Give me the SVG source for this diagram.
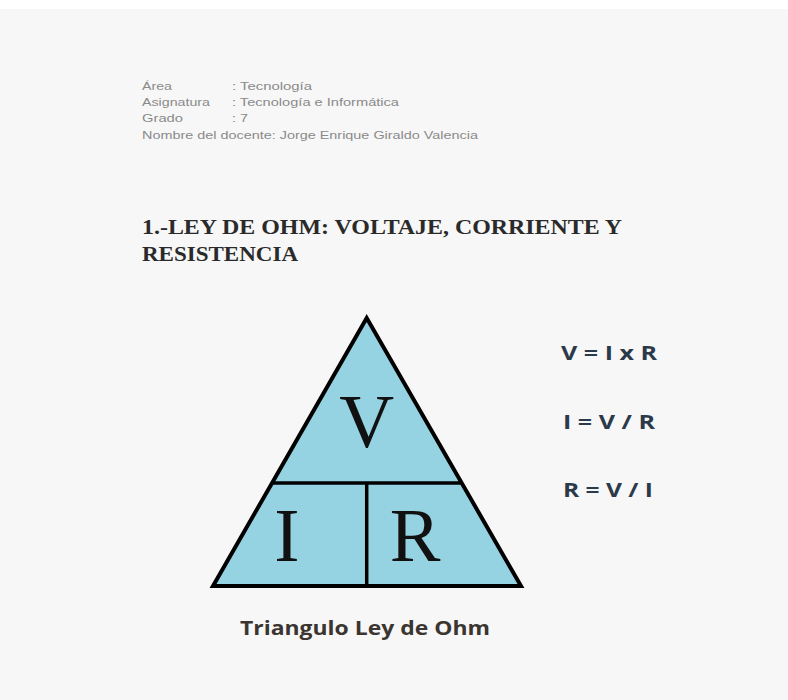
<svg xmlns="http://www.w3.org/2000/svg" width="788" height="700" viewBox="0 0 788 700">
<style>
.hdr{font-family:"Liberation Sans",Arial,sans-serif;font-size:11.5px;fill:#8a8a8a}
.ttl{font-family:"Liberation Serif","Times New Roman",serif;font-size:21px;font-weight:bold;fill:#2a2a2a}
.big{font-family:"Liberation Serif","Times New Roman",serif;font-size:76px;fill:#111;text-anchor:middle}
.frm{font-family:"Open Sans","Liberation Sans",sans-serif;font-size:20px;font-weight:bold;fill:#2b3a4a}
.cap{font-family:"Open Sans","Liberation Sans",sans-serif;font-size:20px;font-weight:bold;fill:#3a3530}
</style>
<rect x="0" y="0" width="788" height="700" fill="#f7f7f7"/>
<rect x="0" y="0" width="788" height="9" fill="#ffffff"/>
<g id="header">
<text class="hdr" x="142" y="90" textLength="30" lengthAdjust="spacingAndGlyphs">Área</text>
<text class="hdr" x="232" y="90" textLength="80" lengthAdjust="spacingAndGlyphs">: Tecnología</text>
<text class="hdr" x="142" y="106" textLength="68" lengthAdjust="spacingAndGlyphs">Asignatura</text>
<text class="hdr" x="232" y="106" textLength="167" lengthAdjust="spacingAndGlyphs">: Tecnología e Informática</text>
<text class="hdr" x="142" y="122" textLength="41" lengthAdjust="spacingAndGlyphs">Grado</text>
<text class="hdr" x="232" y="122" textLength="16" lengthAdjust="spacingAndGlyphs">: 7</text>
<text class="hdr" x="142" y="139" textLength="336" lengthAdjust="spacingAndGlyphs">Nombre del docente: Jorge Enrique Giraldo Valencia</text>
</g>
<g id="title">
<text class="ttl" x="142" y="234" textLength="480" lengthAdjust="spacingAndGlyphs">1.-LEY DE OHM: VOLTAJE, CORRIENTE Y</text>
<text class="ttl" x="142" y="261" textLength="156" lengthAdjust="spacingAndGlyphs">RESISTENCIA</text>
</g>
<g id="triangle">
<polygon points="366.7,318 213,586 521,586" fill="#95d3e3" stroke="#000" stroke-width="4" stroke-linejoin="miter"/>
<line x1="273" y1="483" x2="461" y2="483" stroke="#000" stroke-width="3.5"/>
<line x1="366.7" y1="483" x2="366.7" y2="586" stroke="#000" stroke-width="3.5"/>
</g>
<g id="node-V"><text class="big" x="366.7" y="447">V</text></g>
<g id="node-I"><text class="big" x="287" y="561">I</text></g>
<g id="node-R"><text class="big" x="415" y="561">R</text></g>
<g id="formulas">
<text class="frm" x="561" y="360" textLength="96" lengthAdjust="spacingAndGlyphs">V = I x R</text>
<text class="frm" x="563" y="429" textLength="92" lengthAdjust="spacingAndGlyphs">I = V / R</text>
<text class="frm" x="563" y="497" textLength="90" lengthAdjust="spacingAndGlyphs">R = V / I</text>
</g>
<g id="caption">
<text class="cap" x="240" y="635" textLength="250" lengthAdjust="spacingAndGlyphs">Triangulo Ley de Ohm</text>
</g>
</svg>
